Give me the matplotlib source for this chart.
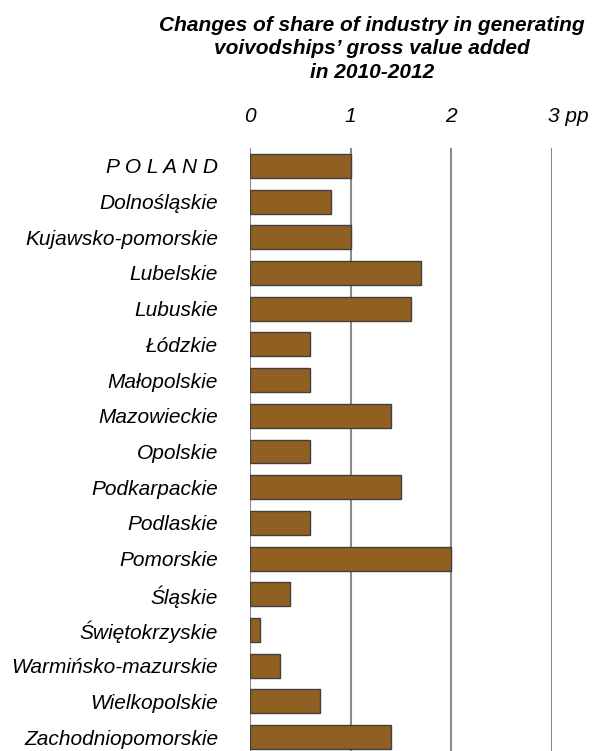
import matplotlib
matplotlib.use("Agg")
import matplotlib.pyplot as plt
from matplotlib.transforms import ScaledTranslation

categories = ["P O L A N D", "Dolnośląskie", "Kujawsko-pomorskie", "Lubelskie", "Lubuskie",
              "Łódzkie", "Małopolskie", "Mazowieckie", "Opolskie", "Podkarpackie",
              "Podlaskie", "Pomorskie", "Śląskie", "Świętokrzyskie", "Warmińsko-mazurskie",
              "Wielkopolskie", "Zachodniopomorskie"]
values = [1.0, 0.8, 1.0, 1.7, 1.6, 0.6, 0.6, 1.4, 0.6, 1.5, 0.6, 2.0, 0.4, 0.1, 0.3, 0.7, 1.4]
xticks = [0, 1, 2, 3]
xticklabels = ["0", "1", "2", "3 pp"]
title = ("Changes of share of industry in generating\n"
         "voivodships’ gross value added\n"
         "in 2010-2012")

plt.rcParams['font.family'] = ['Liberation Sans', 'DejaVu Sans']

fig = plt.figure(figsize=(5.94, 7.51), dpi=100)
ax = fig.add_axes([250/594, 0.0, 302/594, 1 - 148/751])

y = list(range(len(categories)))
ax.barh(y, values, height=0.67, color="#8F6022", edgecolor="#404040", linewidth=1.0, zorder=3)

ax.set_xlim(0, 3)
ax.set_ylim(16.39, -0.5)
ax.set_yticks(y)
ax.set_yticklabels(categories, fontsize=15, fontstyle='italic')
ax.tick_params(axis='y', length=0, pad=23)
ax.xaxis.tick_top()
ax.set_xticks(xticks)
ax.set_xticklabels(xticklabels, fontsize=15, fontstyle='italic')
ax.tick_params(axis='x', length=0, pad=16)
lbls = ax.get_xticklabels()
lbls[-1].set_horizontalalignment('left')
lbls[-1].set_transform(lbls[-1].get_transform() + ScaledTranslation(-4.5/100, 0, fig.dpi_scale_trans))

for s in ax.spines.values():
    s.set_visible(False)
ax.grid(axis='x', color="#8a8a8a", linewidth=1.5, zorder=0)
ax.grid(axis='y', visible=False)

fig.text(372/594, 1 - 49/751, title, ha='center', va='center', fontsize=15,
         fontweight='bold', fontstyle='italic', linespacing=1.3, multialignment='center')

fig.savefig("out.png", dpi=100)
